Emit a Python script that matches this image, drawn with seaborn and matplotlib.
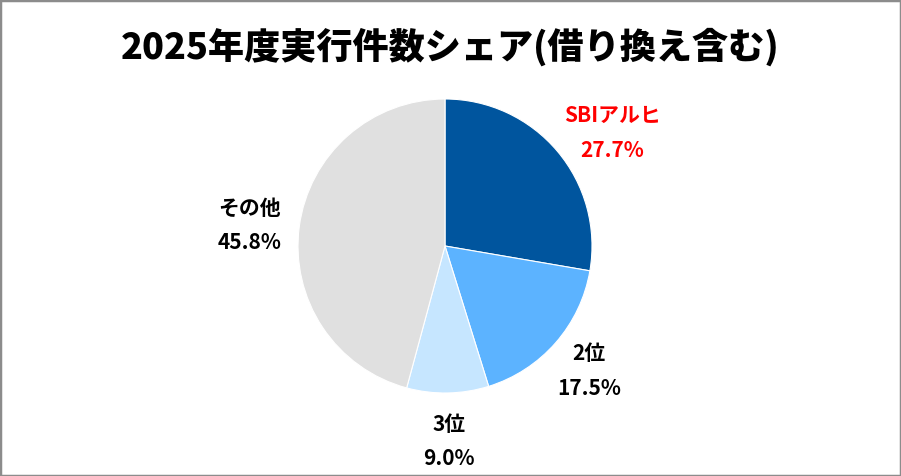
import matplotlib
matplotlib.use("Agg")
import matplotlib.pyplot as plt
import seaborn as sns
from matplotlib.patches import Rectangle

# data
labels = ["SBIアルヒ", "2位", "3位", "その他"]
shares = [27.7, 17.5, 9.0, 45.8]
colors = ["#00559E", "#5CB3FF", "#C6E6FF", "#E0E0E0"]
label_colors = ["#FF0000", "#000000", "#000000", "#000000"]

sns.set_theme(style="white")
plt.rcParams['font.family'] = ['Noto Sans CJK JP', 'DejaVu Sans']

fig = plt.figure(figsize=(9.01, 4.76), dpi=100)
W, H = 901, 476
cx, cy, r = 445, 246, 147
ax = fig.add_axes([(cx - 1.5 * r) / W, (H - cy - 1.5 * r) / H, 3 * r / W, 3 * r / H])

texts_lbl = [f"{l}\n{v:.1f}%" for l, v in zip(labels, shares)]
wedges, texts = ax.pie(shares, labels=texts_lbl, colors=colors, startangle=90,
                       counterclock=False, labeldistance=1.33,
                       wedgeprops=dict(edgecolor="white", linewidth=0.8),
                       textprops=dict(fontsize=15, fontweight="bold", ha="center",
                                      va="center", linespacing=1.8))
for t, c in zip(texts, label_colors):
    t.set_color(c)
    t.set_ha("center")
# Excel-style placement of some labels
texts[0].set_position((1.14, 0.77))
texts[1].set_position((0.98, -0.85))
texts[3].set_position((-1.33, 0.14))

ax.set_xlim(-1.5, 1.5)
ax.set_ylim(-1.5, 1.5)
ax.set_aspect("equal")
ax.axis("off")

fig.text(0.5, 1 - 47 / H, "2025年度実行件数シェア(借り換え含む)", ha="center", va="center",
         fontsize=26, fontweight="heavy", color="black")

fig.add_artist(Rectangle((0, 0), 1, 1, transform=fig.transFigure, fill=False,
                         edgecolor="#8c8c8c", linewidth=2.5))

fig.savefig("out.png", dpi=100)
